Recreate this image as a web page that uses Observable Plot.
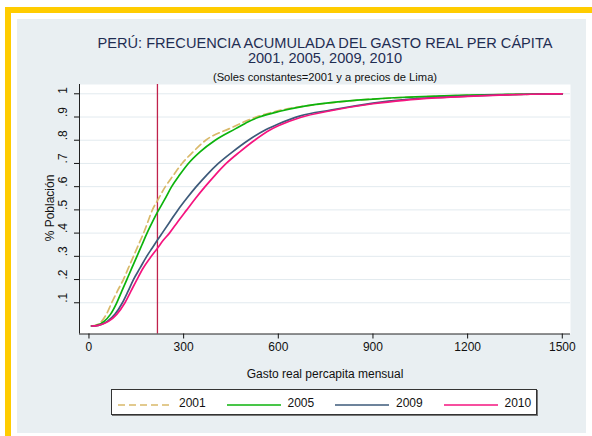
<!DOCTYPE html>
<html><head><meta charset="utf-8">
<script src="https://cdn.jsdelivr.net/npm/d3@7"></script>
<script src="https://cdn.jsdelivr.net/npm/@observablehq/plot@0.6"></script>
<style>
body{margin:0;background:#fff;font-family:"Liberation Sans",Arial,sans-serif;}
#wrap{position:relative;width:592px;height:436px;overflow:hidden;background:#fff;}
#frame{position:absolute;left:5px;top:7px;width:640px;height:480px;border:6px solid #ffcc00;box-sizing:border-box;}
#bg{position:absolute;left:17px;top:19px;width:569px;height:414px;background:#e9eff2;}
.t{position:absolute;left:0;width:650px;text-align:center;white-space:nowrap;}
#t1{top:35px;font-size:14.6px;line-height:16px;color:#1f2d52;}
#t2{top:49.5px;font-size:14.6px;line-height:16px;color:#1f2d52;}
#t3{top:71px;font-size:11.2px;line-height:12px;color:#111;}
#xl{top:367px;font-size:12px;line-height:14px;color:#111;}
#yl{position:absolute;left:-10px;top:201px;width:120px;height:14px;line-height:14px;font-size:12px;text-align:center;transform:rotate(-90deg);color:#111;white-space:nowrap;}
#chart{position:absolute;left:0;top:80px;}
#legend{position:absolute;left:111px;top:389px;width:426px;height:26px;background:#fff;border:1px solid #333;box-sizing:border-box;box-shadow:1px 1px 0 #777;}
.sw{position:absolute;top:7px;width:54px;height:12px;}
.lt{position:absolute;top:5.5px;font-size:12px;line-height:14px;color:#111;}
</style></head>
<body>
<div id="wrap">
  <div id="frame"></div>
  <div id="bg"></div>
  <div class="t" id="t1">PERÚ: FRECUENCIA ACUMULADA DEL GASTO REAL PER CÁPITA</div>
  <div class="t" id="t2">2001, 2005, 2009, 2010</div>
  <div class="t" id="t3">(Soles constantes=2001 y a precios de Lima)</div>
  <div id="yl">% Población</div>
  <div class="t" id="xl">Gasto real percapita mensual</div>
  <div id="chart"></div>
  <div id="legend"></div>
</div>
<script>
const years = ["2001", "2005", "2009", "2010"];
const colors = ["#d9b96a", "#0cb30c", "#3d5a7a", "#f5147f"];
const dashes = ["7,4", null, null, null];

const s2001 = [8, 25, 40, 55, 72, 90, 109, 125, 141, 157, 173, 187, 201, 217, 242, 268, 295, 330, 370, 445, 530, 610, 700, 800, 900, 1000, 1100, 1200, 1300, 1400, 1500];
const c2001 = [0, 0.005, 0.02, 0.05, 0.1, 0.15, 0.2, 0.25, 0.3, 0.35, 0.4, 0.45, 0.5, 0.54, 0.6, 0.65, 0.7, 0.75, 0.8, 0.85, 0.9, 0.93, 0.95, 0.966, 0.977, 0.984, 0.989, 0.993, 0.996, 0.998, 1.0];

const s2005 = [8, 25, 48, 68, 88, 104, 120, 136, 152, 168, 184, 200, 217, 240, 262, 287, 315, 352, 400, 465, 505, 540, 605, 675, 766, 900, 1000, 1100, 1200, 1300, 1400, 1500];
const c2005 = [0, 0.003, 0.02, 0.05, 0.1, 0.15, 0.2, 0.25, 0.3, 0.35, 0.4, 0.445, 0.49, 0.545, 0.6, 0.65, 0.7, 0.75, 0.8, 0.85, 0.88, 0.9, 0.925, 0.945, 0.962, 0.977, 0.985, 0.99, 0.994, 0.997, 0.999, 1.0];

const s2009 = [8, 30, 58, 82, 106, 124, 141, 162, 183, 200, 217, 232, 257, 282, 310, 340, 373, 410, 455, 505, 560, 600, 670, 766, 900, 1000, 1100, 1200, 1300, 1400, 1500];
const c2009 = [0, 0.003, 0.02, 0.05, 0.1, 0.15, 0.2, 0.25, 0.3, 0.335, 0.37, 0.4, 0.45, 0.5, 0.55, 0.6, 0.65, 0.7, 0.75, 0.8, 0.845, 0.87, 0.905, 0.93, 0.96, 0.975, 0.984, 0.99, 0.995, 0.998, 1.0];

const s2010 = [8, 30, 62, 88, 114, 133, 152, 172, 192, 217, 236, 255, 282, 310, 338, 368, 400, 435, 478, 525, 575, 600, 670, 766, 900, 1000, 1100, 1200, 1300, 1400, 1500];
const c2010 = [0, 0.003, 0.02, 0.05, 0.1, 0.15, 0.2, 0.25, 0.29, 0.335, 0.37, 0.4, 0.45, 0.5, 0.55, 0.6, 0.65, 0.7, 0.75, 0.8, 0.845, 0.862, 0.898, 0.927, 0.957, 0.972, 0.982, 0.989, 0.994, 0.998, 1.0];

const povertyLine = [217];
const xTicks = [0, 300, 600, 900, 1200, 1500];
const yTicks = [0.1, 0.2, 0.3, 0.4, 0.5, 0.6, 0.7, 0.8, 0.9, 1];
const yTickLabels = [".1", ".2", ".3", ".4", ".5", ".6", ".7", ".8", ".9", "1"];
const xDomain = [-30, 1526];
const yDomain = [-0.0345, 1.04];

const spends = [s2001, s2005, s2009, s2010];
const cums = [c2001, c2005, c2009, c2010];
const series = years.map((y, k) => spends[k].map((v, i) => ({year: y, v, p: cums[k][i]})));

const font = "'Liberation Sans', Arial, sans-serif";
const chart = Plot.plot({
  width: 592, height: 300,
  marginLeft: 79, marginRight: 22, marginTop: 4, marginBottom: 46.5,
  style: {background: "transparent", fontFamily: font, fontSize: "11.5px", color: "#111", overflow: "visible"},
  x: {domain: xDomain},
  y: {domain: yDomain},
  marks: [
    Plot.frame({fill: "white", stroke: null}),
    Plot.gridY(yTicks, {stroke: "#e2eaef", strokeOpacity: 1, strokeWidth: 1}),
    Plot.ruleX(povertyLine, {stroke: "#c0224c", strokeWidth: 1.3}),
    ...series.map((d, k) => Plot.line(d, {x: "v", y: "p", stroke: colors[k], strokeWidth: 1.7, strokeDasharray: dashes[k], curve: "monotone-x"})),
    Plot.ruleX([xDomain[0]], {stroke: "#222", strokeWidth: 1}),
    Plot.ruleY([yDomain[0]], {stroke: "#222", strokeWidth: 1}),
    Plot.axisX({ticks: xTicks, tickSize: 5, tickPadding: 3, label: null, fontSize: 12, tickFormat: d => String(d)}),
    Plot.axisY({ticks: yTicks, tickSize: 5, label: null, tickFormat: () => ""}),
    Plot.text(yTicks, {y: d => d, text: (d, i) => yTickLabels[i], frameAnchor: "left", dx: -16, rotate: -90, fontSize: 12, fill: "#111"})
  ]
});
document.getElementById("chart").appendChild(chart);

const lg = document.getElementById("legend");
years.forEach((y, k) => {
  const sw = document.createElement("div");
  sw.className = "sw";
  sw.style.left = (6 + 108.5 * k) + "px";
  sw.innerHTML = `<svg width="54" height="12"><line x1="0" x2="54" y1="6" y2="6" stroke="${colors[k]}" stroke-width="1.7" ${dashes[k] ? `stroke-dasharray="${dashes[k]}"` : ""}/></svg>`;
  lg.appendChild(sw);
  const t = document.createElement("div");
  t.className = "lt";
  t.style.left = (67 + 108.5 * k) + "px";
  t.textContent = y;
  lg.appendChild(t);
});
</script>
</body></html>
